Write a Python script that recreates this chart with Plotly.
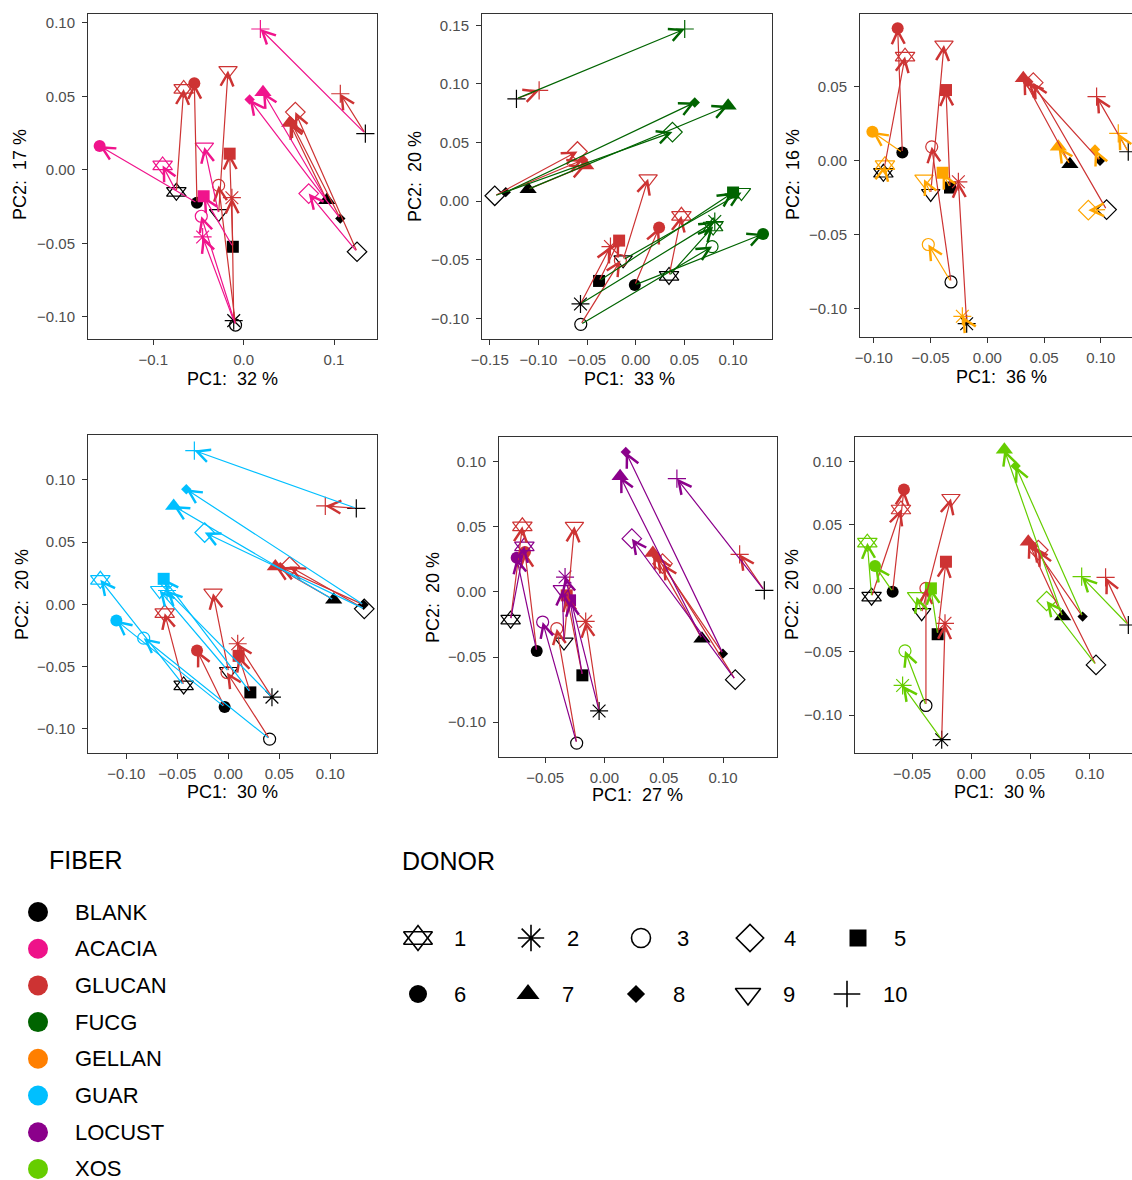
import plotly.graph_objects as go

W, H = 1132, 1180

# ---------------- data ----------------
DONORS = [1, 2, 3, 4, 5, 6, 7, 8, 9, 10]
FIBERS = ["BLANK", "ACACIA", "GLUCAN", "FUCG", "GELLAN", "GUAR", "LOCUST", "XOS"]
PANEL_FIBERS = ["ACACIA", "FUCG", "GELLAN", "GUAR", "LOCUST", "XOS"]
PC1_PCT = [32, 33, 36, 30, 27, 30]
PC2_PCT = [17, 20, 16, 20, 20, 20]

# panel 1 : ACACIA
P1_BLANK_PC1 = [-0.0745, -0.011, -0.009, 0.1255, -0.012, -0.0517, 0.092, 0.107, -0.0277, 0.1347]
P1_BLANK_PC2 = [-0.015, -0.1027, -0.1057, -0.0558, -0.0524, -0.0225, -0.0207, -0.0332, -0.0298, 0.0246]
P1_GLUCAN_PC1 = [-0.0664, -0.013, -0.0277, 0.0572, -0.0155, -0.0546, 0.051, 0.052, -0.0173, 0.107]
P1_GLUCAN_PC2 = [0.0551, -0.019, -0.0106, 0.0393, 0.011, 0.059, 0.0318, 0.033, 0.0676, 0.0518]
P1_FIBER_PC1 = [-0.0897, -0.0454, -0.0469, 0.072, -0.0443, -0.1594, 0.0214, 0.0066, -0.0435, 0.0185]
P1_FIBER_PC2 = [0.003, -0.0457, -0.0316, -0.0162, -0.018, 0.0162, 0.0529, 0.0479, 0.0155, 0.0959]

# panel 2 : FUCG
P2_BLANK_PC1 = [0.0342, -0.0568, -0.0565, -0.1449, -0.0377, -0.001, -0.1106, -0.1336, -0.013, -0.1226]
P2_BLANK_PC2 = [-0.0637, -0.0876, -0.105, 0.0046, -0.068, -0.0714, 0.0102, 0.0077, -0.050, 0.0873]
P2_GLUCAN_PC1 = [0.0469, -0.026, -0.0158, -0.0599, -0.0171, 0.024, -0.0514, -0.0541, 0.0127, -0.0993]
P2_GLUCAN_PC2 = [-0.0125, -0.0387, -0.0506, 0.0424, -0.0336, -0.0225, 0.0304, 0.0353, 0.0191, 0.0944]
P2_FIBER_PC1 = [0.0795, 0.0812, 0.0784, 0.0377, 0.1, 0.1308, 0.0949, 0.0606, 0.1086, 0.0503]
P2_FIBER_PC2 = [-0.0216, -0.0173, -0.0387, 0.0589, 0.0074, -0.0279, 0.0813, 0.0842, 0.0074, 0.1468]

# panel 3 : GELLAN
P3_BLANK_PC1 = [-0.0916, -0.0182, -0.032, 0.1051, -0.0329, -0.0749, 0.0728, 0.0993, -0.0499, 0.1242]
P3_BLANK_PC2 = [-0.0083, -0.1103, -0.0821, -0.0332, -0.0183, 0.0054, -0.0025, -0.0002, -0.0223, 0.0059]
P3_GLUCAN_PC1 = [-0.0725, -0.0255, -0.049, 0.0405, -0.0364, -0.079, 0.0317, 0.0361, -0.0382, 0.0963]
P3_GLUCAN_PC2 = [0.0702, -0.0144, 0.0092, 0.0526, 0.0476, 0.0893, 0.0555, 0.0532, 0.078, 0.0431]
P3_FIBER_PC1 = [-0.0902, -0.022, -0.052, 0.089, -0.0394, -0.1013, 0.0626, 0.0949, -0.0558, 0.1154]
P3_FIBER_PC2 = [-0.0032, -0.1053, -0.0568, -0.0336, -0.0083, 0.0194, 0.0092, 0.0074, -0.0126, 0.0183]

# panel 4 : GUAR
P4_BLANK_PC1 = [-0.0438, 0.0428, 0.0405, 0.1333, 0.0216, -0.0036, 0.1033, 0.1327, 0.0003, 0.1255]
P4_BLANK_PC2 = [-0.0652, -0.0746, -0.1083, -0.0036, -0.0708, -0.0826, 0.0036, -0.0004, -0.054, 0.0772]
P4_GLUCAN_PC1 = [-0.0624, 0.0092, -0.0013, 0.0601, 0.0101, -0.0307, 0.0461, 0.051, -0.015, 0.0951]
P4_GLUCAN_PC2 = [-0.0071, -0.0317, -0.0548, 0.0304, -0.0414, -0.0371, 0.0304, 0.0299, 0.009, 0.0791]
P4_FIBER_PC1 = [-0.1255, -0.0601, -0.083, -0.0232, -0.0634, -0.1098, -0.0536, -0.0412, -0.0673, -0.0333]
P4_FIBER_PC2 = [0.0197, 0.0111, -0.0272, 0.0577, 0.0205, -0.013, 0.0791, 0.0925, 0.0111, 0.1236]

# panel 5 : LOCUST
P5_BLANK_PC1 = [-0.0791, -0.0045, -0.0234, 0.1103, -0.0186, -0.0571, 0.0822, 0.0999, -0.0341, 0.1348]
P5_BLANK_PC2 = [-0.0213, -0.0915, -0.1162, -0.0674, -0.0641, -0.0454, -0.0359, -0.0474, -0.0385, 0.0013]
P5_GLUCAN_PC1 = [-0.0692, -0.0158, -0.0402, 0.049, -0.0318, -0.067, 0.0408, 0.0442, -0.0253, 0.114]
P5_GLUCAN_PC2 = [0.0505, -0.0226, -0.0282, 0.0218, -0.0026, 0.0308, 0.03, 0.0269, 0.0505, 0.029]
P5_FIBER_PC1 = [-0.0675, -0.0332, -0.0521, 0.0231, -0.029, -0.074, 0.0132, 0.018, -0.0355, 0.0611]
P5_FIBER_PC2 = [0.0351, 0.0115, -0.0231, 0.041, -0.0064, 0.0264, 0.089, 0.1077, 0.0018, 0.0872]

# panel 6 : XOS
P6_BLANK_PC1 = [-0.0842, -0.025, -0.0383, 0.1053, -0.0284, -0.0664, 0.0771, 0.094, -0.0419, 0.1326]
P6_BLANK_PC2 = [-0.0066, -0.1194, -0.0924, -0.0604, -0.0362, -0.0026, -0.0223, -0.0223, -0.0192, -0.0289]
P6_GLUCAN_PC1 = [-0.0594, -0.0222, -0.0383, 0.0566, -0.0214, -0.0569, 0.0481, 0.0524, -0.0172, 0.1134]
P6_GLUCAN_PC2 = [0.0622, -0.0276, 0.0, 0.0302, 0.021, 0.078, 0.0367, 0.0333, 0.0709, 0.0087]
P6_FIBER_PC1 = [-0.0878, -0.058, -0.056, 0.0636, -0.0341, -0.0813, 0.0279, 0.0374, -0.0462, 0.0932]
P6_FIBER_PC2 = [0.036, -0.0766, -0.0493, -0.01, 0.0, 0.0176, 0.1094, 0.0966, -0.0066, 0.0092]

PANELS = [
    (P1_BLANK_PC1, P1_BLANK_PC2, P1_GLUCAN_PC1, P1_GLUCAN_PC2, P1_FIBER_PC1, P1_FIBER_PC2),
    (P2_BLANK_PC1, P2_BLANK_PC2, P2_GLUCAN_PC1, P2_GLUCAN_PC2, P2_FIBER_PC1, P2_FIBER_PC2),
    (P3_BLANK_PC1, P3_BLANK_PC2, P3_GLUCAN_PC1, P3_GLUCAN_PC2, P3_FIBER_PC1, P3_FIBER_PC2),
    (P4_BLANK_PC1, P4_BLANK_PC2, P4_GLUCAN_PC1, P4_GLUCAN_PC2, P4_FIBER_PC1, P4_FIBER_PC2),
    (P5_BLANK_PC1, P5_BLANK_PC2, P5_GLUCAN_PC1, P5_GLUCAN_PC2, P5_FIBER_PC1, P5_FIBER_PC2),
    (P6_BLANK_PC1, P6_BLANK_PC2, P6_GLUCAN_PC1, P6_GLUCAN_PC2, P6_FIBER_PC1, P6_FIBER_PC2),
]

# ---------------- styles ----------------
PLOT_COLORS = {"BLANK": "#000000", "ACACIA": "#F0148C", "GLUCAN": "#CD3333", "FUCG": "#006400",
               "GELLAN": "#FFA500", "GUAR": "#00BFFF", "LOCUST": "#8B008B", "XOS": "#66CD00"}
LEGEND_COLORS = {"BLANK": "#000000", "ACACIA": "#EE1289", "GLUCAN": "#CD3333", "FUCG": "#006400",
                 "GELLAN": "#FF7F00", "GUAR": "#00BFFF", "LOCUST": "#8B008B", "XOS": "#66CD00"}
SYM = {1: "triangle-up-open", 2: "asterisk-open", 3: "circle-open", 4: "diamond-open", 5: "square",
       6: "circle", 7: "triangle-up", 8: "diamond", 9: "triangle-down-open", 10: "cross-thin-open"}
SIZE = {1: 17, 2: 15, 3: 12, 4: 15, 5: 12, 6: 12, 7: 15, 8: 8, 9: 16, 10: 13}
LSIZE = {1: 25, 2: 22, 3: 19, 4: 21, 5: 17, 6: 18, 7: 20, 8: 14, 9: 22, 10: 19}
OPEN = {1, 2, 3, 4, 9, 10}

FONT = "Liberation Sans, Arial, sans-serif"

# panel boxes in pixels (left, right, top, bottom), axis ranges, tick steps
BOXES = [(88, 377, 14, 339), (482, 772, 14, 339), (860, 1132, 14, 337),
         (88, 377, 435, 753), (499, 777, 437, 757), (855, 1132, 437, 753)]
XRANGES = [(-0.1723, 0.1476), (-0.158, 0.140), (-0.1122, 0.1275),
           (-0.1376, 0.1458), (-0.0889, 0.1455), (-0.0982, 0.1357)]
YRANGES = [(-0.1152, 0.1061), (-0.1175, 0.1596), (-0.1193, 0.099),
           (-0.1195, 0.1361), (-0.1269, 0.1192), (-0.1299, 0.1194)]
XDTICK = [0.1, 0.05, 0.05, 0.05, 0.05, 0.05]
XFMT = [".1f", ".2f", ".2f", ".2f", ".2f", ".2f"]
CLIPPED_RIGHT = [False, False, True, False, False, True]
XTITLE_POS = [(232, 379), (629, 379), (1001, 377), (232, 792), (637, 795), (999, 792)]
YTITLE_POS = [(20, 175), (415, 177), (793, 175), (22, 595), (433, 598), (792, 595)]

fig = go.Figure()
annotations = []
layout = dict(width=W, height=H, margin=dict(l=0, r=0, t=0, b=0, autoexpand=False),
              paper_bgcolor="white", plot_bgcolor="white", showlegend=False,
              font=dict(family=FONT))


def group_trace(xs, ys, color, ax):
    x = list(xs) + [xs[0]]
    y = list(ys) + [ys[0]]
    syms = [SYM[d] for d in DONORS] + ["triangle-down-open"]
    sizes = [SIZE[d] for d in DONORS] + [SIZE[1]]
    lws = [1.2 if d in OPEN else 0 for d in DONORS] + [1.2]
    return go.Scatter(x=x, y=y, mode="markers", xaxis="x" + ax, yaxis="y" + ax,
                      marker=dict(symbol=syms, size=sizes, color=color, opacity=1,
                                  line=dict(width=lws, color=color)),
                      cliponaxis=False, hoverinfo="skip")


for i, (bx, by, gx, gy, fx, fy) in enumerate(PANELS):
    n = i + 1
    ax = "" if n == 1 else str(n)
    fiber = PANEL_FIBERS[i]
    L, R, T, B = BOXES[i]
    layout["xaxis" + ax] = dict(
        domain=[L / W, R / W], range=list(XRANGES[i]), anchor="y" + ax, automargin=False,
        showline=True, mirror=True, linecolor="#333333", linewidth=1,
        ticks="outside", ticklen=5, tickcolor="#333333", tickwidth=1, ticklabelstandoff=2,
        tickfont=dict(size=15, color="#4D4D4D", family=FONT),
        showgrid=False, zeroline=False, tick0=0, dtick=XDTICK[i], tickformat=XFMT[i])
    layout["yaxis" + ax] = dict(
        domain=[1 - B / H, 1 - T / H], range=list(YRANGES[i]), anchor="x" + ax, automargin=False,
        showline=True, mirror=not CLIPPED_RIGHT[i], linecolor="#333333", linewidth=1,
        ticks="outside", ticklen=5, tickcolor="#333333", tickwidth=1, ticklabelstandoff=4,
        tickfont=dict(size=15, color="#4D4D4D", family=FONT),
        showgrid=False, zeroline=False, tick0=0, dtick=0.05, tickformat=".2f")

    fig.add_trace(group_trace(bx, by, PLOT_COLORS["BLANK"], ax))
    fig.add_trace(group_trace(gx, gy, PLOT_COLORS["GLUCAN"], ax))
    fig.add_trace(group_trace(fx, fy, PLOT_COLORS[fiber], ax))

    for (tx, ty, col) in [(gx, gy, PLOT_COLORS["GLUCAN"]), (fx, fy, PLOT_COLORS[fiber])]:
        for d in range(len(DONORS)):
            annotations.append(dict(
                x=tx[d], y=ty[d], ax=bx[d], ay=by[d],
                xref="x" + ax, yref="y" + ax, axref="x" + ax, ayref="y" + ax,
                text="", showarrow=True, arrowhead=5, arrowsize=2.1, arrowwidth=1.2,
                arrowcolor=col, standoff=0, startstandoff=0))

    xt = XTITLE_POS[i]
    annotations.append(dict(x=xt[0] / W, y=1 - xt[1] / H, xref="paper", yref="paper",
                            text=f"PC1:\u00a0 {PC1_PCT[i]} %", showarrow=False,
                            font=dict(size=18, color="black", family=FONT),
                            xanchor="center", yanchor="middle"))
    yt = YTITLE_POS[i]
    annotations.append(dict(x=yt[0] / W, y=1 - yt[1] / H, xref="paper", yref="paper",
                            text=f"PC2:\u00a0 {PC2_PCT[i]} %", showarrow=False, textangle=-90,
                            font=dict(size=18, color="black", family=FONT),
                            xanchor="center", yanchor="middle"))

# ---------------- legends (drawn on a hidden pixel-scaled axis) ----------------
layout["xaxis7"] = dict(domain=[0, 1], range=[0, W], visible=False, anchor="y7",
                        fixedrange=True, automargin=False)
layout["yaxis7"] = dict(domain=[0, 360 / H], range=[H, H - 360], visible=False, anchor="x7",
                        fixedrange=True, automargin=False)

FIB_LEG_X, FIB_LEG_Y0, FIB_LEG_DY = 38, 912, 36.7
fig.add_trace(go.Scatter(
    x=[FIB_LEG_X] * len(FIBERS), y=[FIB_LEG_Y0 + k * FIB_LEG_DY for k in range(len(FIBERS))],
    mode="markers", xaxis="x7", yaxis="y7", cliponaxis=False, hoverinfo="skip",
    marker=dict(symbol="circle", size=20, opacity=1,
                color=[LEGEND_COLORS[f] for f in FIBERS], line=dict(width=0))))
for k, f in enumerate(FIBERS):
    annotations.append(dict(x=73 / W, y=1 - (FIB_LEG_Y0 + k * FIB_LEG_DY) / H, xref="paper", yref="paper",
                            text=f, showarrow=False, xanchor="left", yanchor="middle",
                            font=dict(size=22, color="black", family=FONT)))
annotations.append(dict(x=47 / W, y=1 - 860 / H, xref="paper", yref="paper", text="FIBER",
                        showarrow=False, xanchor="left", yanchor="middle",
                        font=dict(size=25, color="black", family=FONT)))
annotations.append(dict(x=400 / W, y=1 - 861 / H, xref="paper", yref="paper", text="DONOR",
                        showarrow=False, xanchor="left", yanchor="middle",
                        font=dict(size=25, color="black", family=FONT)))

DON_SYM_X = [418, 531, 641, 750, 858, 418, 528, 636, 748, 847]
DON_LAB_X = [460, 573, 683, 790, 900, 460, 568, 679, 789, 895]
DON_ROW_Y = [938] * 5 + [994] * 5
lx = DON_SYM_X + [DON_SYM_X[0]]
ly = DON_ROW_Y + [DON_ROW_Y[0]]
lsym = [SYM[d] for d in DONORS] + ["triangle-down-open"]
lsz = [LSIZE[d] for d in DONORS] + [LSIZE[1]]
llw = [1.6 if d in OPEN else 0 for d in DONORS] + [1.6]
fig.add_trace(go.Scatter(x=lx, y=ly, mode="markers", xaxis="x7", yaxis="y7", cliponaxis=False,
                         hoverinfo="skip",
                         marker=dict(symbol=lsym, size=lsz, color="black", opacity=1,
                                     line=dict(width=llw, color="black"))))
for k, d in enumerate(DONORS):
    annotations.append(dict(x=DON_LAB_X[k] / W, y=1 - DON_ROW_Y[k] / H, xref="paper", yref="paper",
                            text=str(d), showarrow=False, xanchor="center", yanchor="middle",
                            font=dict(size=22, color="black", family=FONT)))

layout["annotations"] = annotations
fig.update_layout(**layout)
fig.write_html("out.html", config={"displayModeBar": False, "responsive": False},
               post_script="document.body.style.margin='0';document.body.style.padding='0';"
                           "document.body.style.overflow='hidden';")
